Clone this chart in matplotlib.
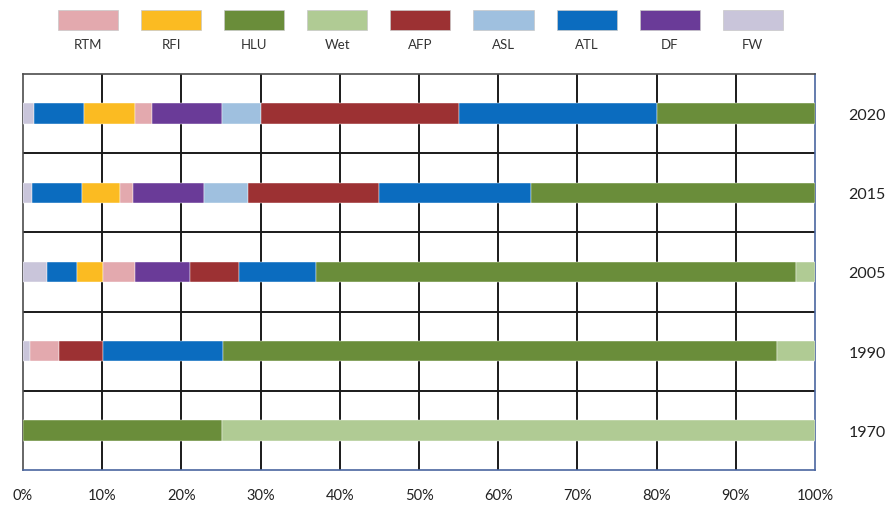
import matplotlib.pyplot as plt
from matplotlib.patches import Rectangle

plt.rcParams['font.family'] = ['Lato', 'DejaVu Sans']

# Land use classes and their colours
classes = ['RTM', 'RFI', 'HLU', 'Wet', 'AFP', 'ASL', 'ATL', 'DF', 'FW']
class_colors = {
    'RTM': '#e3a9ae',
    'RFI': '#fbbb22',
    'HLU': '#6a8d3a',
    'Wet': '#b0cb94',
    'AFP': '#9c3133',
    'ASL': '#9fc0df',
    'ATL': '#0b6cbf',
    'DF': '#6a3b98',
    'FW': '#c9c5da',
}

years = ['1970', '1990', '2005', '2015', '2020']

# Segments of each bar, left to right (share in %)
seg_1970 = ['HLU', 'Wet']
val_1970 = [25.1, 74.9]

seg_1990 = ['FW', 'RTM', 'AFP', 'ATL', 'HLU', 'Wet']
val_1990 = [0.9, 3.6, 5.6, 15.1, 70.0, 4.8]

seg_2005 = ['FW', 'ATL', 'RFI', 'RTM', 'DF', 'AFP', 'ATL', 'HLU', 'Wet']
val_2005 = [3.0, 3.8, 3.3, 4.0, 7.0, 6.2, 9.7, 60.6, 2.4]

seg_2015 = ['FW', 'ATL', 'RFI', 'RTM', 'DF', 'ASL', 'AFP', 'ATL', 'HLU']
val_2015 = [1.1, 6.3, 4.8, 1.7, 8.9, 5.6, 16.5, 19.2, 35.9]

seg_2020 = ['FW', 'ATL', 'RFI', 'RTM', 'DF', 'ASL', 'AFP', 'ATL', 'HLU']
val_2020 = [1.4, 6.3, 6.4, 2.2, 8.8, 5.0, 25.0, 24.9, 20.0]

segments = [seg_1970, seg_1990, seg_2005, seg_2015, seg_2020]
values = [val_1970, val_1990, val_2005, val_2015, val_2020]

fig = plt.figure(figsize=(8.91, 5.06), dpi=100)
ax = fig.add_axes([23 / 891, 35 / 506, 792 / 891, 396 / 506])

for i, (segs, vals) in enumerate(zip(segments, values)):
    left = 0.0
    for cls, v in zip(segs, vals):
        ax.barh(i, v, left=left, height=0.26, color=class_colors[cls],
                edgecolor='white', linewidth=0.3, zorder=3)
        left += v

ax.set_xlim(0, 100)
ax.set_ylim(-0.5, len(years) - 0.5)

# grid: vertical every 10 %, horizontal between the years
for x in range(10, 100, 10):
    ax.axvline(x, color='#1a1a1a', lw=1.4, zorder=1)
for y in range(len(years) - 1):
    ax.axhline(y + 0.5, color='#1a1a1a', lw=1.4, zorder=1)

ax.set_xticks(range(0, 101, 10))
ax.set_xticklabels([f'{x}%' for x in range(0, 101, 10)], fontsize=10.5,
                   color='#222222')
ax.tick_params(axis='x', length=0, pad=13)

ax.yaxis.tick_right()
ax.set_yticks(range(len(years)))
ax.set_yticklabels(years, fontsize=11.5, color='#222222')
ax.tick_params(axis='y', length=0, pad=24)

ax.spines['left'].set_color('#4d4d4d')
ax.spines['top'].set_color('#4d4d4d')
ax.spines['right'].set_color('#4a66a0')
ax.spines['bottom'].set_color('#4a66a0')
for s in ax.spines.values():
    s.set_linewidth(1.2)

# legend row along the top: swatch with the label underneath
for k, cls in enumerate(classes):
    x0 = (58 + k * 83.1) / 891
    w = 60 / 891
    fig.add_artist(Rectangle((x0, 1 - 31 / 506), w, 20 / 506,
                             transform=fig.transFigure,
                             facecolor=class_colors[cls],
                             edgecolor='#c8c8c8', linewidth=0.5))
    fig.text(x0 + w / 2, 1 - 45 / 506, cls, ha='center', va='center',
             fontsize=9.5, color='#333333')

fig.savefig('out.png', dpi=100)
